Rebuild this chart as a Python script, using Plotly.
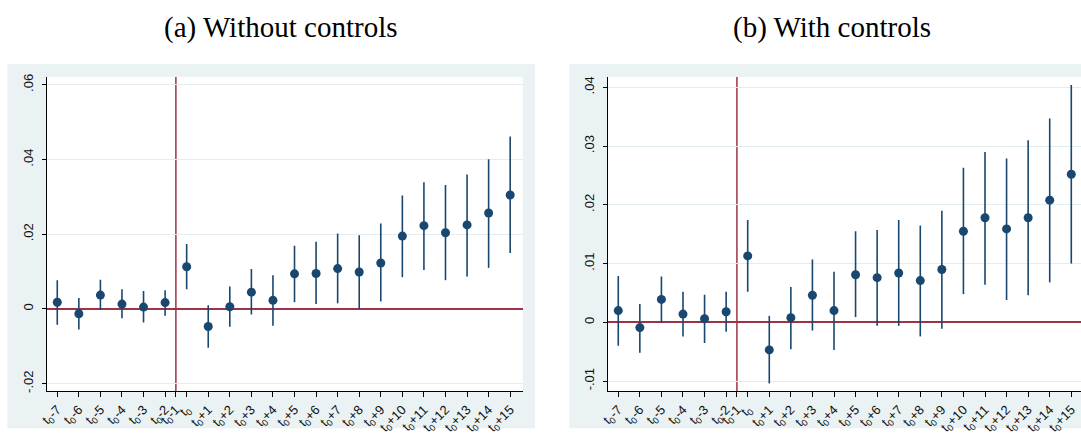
import plotly.graph_objects as go

# ---- data ----
periods = [-7, -6, -5, -4, -3, -2, 0, 1, 2, 3, 4, 5, 6, 7, 8, 9, 10, 11, 12, 13, 14, 15]
omitted_period = -1

def period_label(k):
    if k == 0:
        return "t<sub>0</sub>"
    return "t<sub>0</sub>" + ("+" if k > 0 else "-") + str(abs(k))

# (a) Without controls
est_a = [0.0018, -0.0013, 0.0037, 0.0013, 0.0005, 0.0017, 0.0113, -0.0047, 0.0006, 0.0045, 0.0023,
         0.0094, 0.0095, 0.0108, 0.0099, 0.0123, 0.0195, 0.0223, 0.0204, 0.0225, 0.0257, 0.0305]
hi_a = [0.0077, 0.0029, 0.0078, 0.0053, 0.0048, 0.0050, 0.0174, 0.0010, 0.0060, 0.0107, 0.0090,
        0.0169, 0.0180, 0.0202, 0.0197, 0.0229, 0.0304, 0.0339, 0.0332, 0.0360, 0.0401, 0.0462]
lo_a = [-0.0042, -0.0055, -0.0002, -0.0025, -0.0036, -0.0018, 0.0053, -0.0104, -0.0048, -0.0015, -0.0045,
        0.0018, 0.0013, 0.0015, 0.0000, 0.0020, 0.0085, 0.0104, 0.0077, 0.0087, 0.0110, 0.0150]

# (b) With controls
est_b = [0.0020, -0.0009, 0.0039, 0.0014, 0.0006, 0.0018, 0.0113, -0.0047, 0.0008, 0.0046, 0.0020,
         0.0081, 0.0076, 0.0084, 0.0071, 0.0090, 0.0155, 0.0178, 0.0159, 0.0178, 0.0208, 0.0252]
hi_b = [0.0079, 0.0031, 0.0078, 0.0052, 0.0047, 0.0052, 0.0174, 0.0011, 0.0060, 0.0107, 0.0086,
        0.0155, 0.0157, 0.0174, 0.0165, 0.0190, 0.0263, 0.0290, 0.0279, 0.0310, 0.0347, 0.0404]
lo_b = [-0.0040, -0.0052, -0.0001, -0.0024, -0.0035, -0.0016, 0.0052, -0.0104, -0.0046, -0.0014, -0.0047,
        0.0009, -0.0006, -0.0006, -0.0024, -0.0011, 0.0048, 0.0064, 0.0038, 0.0046, 0.0068, 0.0100]

ytick_vals_a = [-0.02, 0, 0.02, 0.04, 0.06]
ytick_text_a = ["-.02", "0", ".02", ".04", ".06"]
ytick_vals_b = [-0.01, 0, 0.01, 0.02, 0.03, 0.04]
ytick_text_b = ["-.01", "0", ".01", ".02", ".03", ".04"]

titles = ["(a) Without controls", "(b) With controls"]

# ---- positions ----
xpos = list(range(len(periods)))
i_before = periods.index(omitted_period - 1)
omit_x = (xpos[i_before] + xpos[i_before + 1]) / 2
tickvals = xpos[:i_before + 1] + [omit_x] + xpos[i_before + 1:]
tickperiods = periods[:i_before + 1] + [omitted_period] + periods[i_before + 1:]
ticktext = [period_label(k) for k in tickperiods]

NAVY = "#1a476f"
RED = "#9b3446"
BG = "#eaf2f3"
GRID = "#e3ecee"
W, H = 1081, 437

fig = go.Figure()
for i, (est, hi, lo) in enumerate([(est_a, hi_a, lo_a), (est_b, hi_b, lo_b)]):
    ax = "" if i == 0 else "2"
    fig.add_trace(go.Scatter(
        x=xpos, y=est, mode="markers",
        marker=dict(color=NAVY, size=9),
        error_y=dict(type="data", symmetric=False,
                     array=[h - e for h, e in zip(hi, est)],
                     arrayminus=[e - l for e, l in zip(est, lo)],
                     width=0, thickness=1.6, color=NAVY),
        xaxis="x" + ax, yaxis="y" + ax, showlegend=False,
    ))

def px_x(p):
    return p / W

def px_y(p):
    return 1 - p / H

ydom = [px_y(391), px_y(77)]
yfont = dict(family="Liberation Sans, Arial, sans-serif", size=13, color="#111")
xfont = dict(family="Liberation Sans, Arial, sans-serif", size=13, color="#111")

common_x = dict(tickmode="array", tickvals=tickvals, ticktext=ticktext, tickangle=-45,
                showline=True, linecolor="#000", linewidth=1, ticks="outside", ticklen=5,
                tickcolor="#000", showgrid=False, zeroline=False, tickfont=xfont, automargin=False)
common_y = dict(tickmode="array", tickangle=-90, showline=True, linecolor="#000", linewidth=1,
                ticks="outside", ticklen=4, tickcolor="#000", showgrid=True, gridcolor=GRID,
                gridwidth=1, zeroline=True, zerolinecolor=RED, zerolinewidth=1.5, tickfont=yfont,
                ticklabelstandoff=4, automargin=False)

fig.update_layout(
    width=W, height=H, margin=dict(l=0, r=0, t=0, b=0, autoexpand=False),
    paper_bgcolor="white", plot_bgcolor="white",
    xaxis=dict(domain=[px_x(46.7), px_x(522.7)], range=[-0.49, 21.58], anchor="y", **common_x),
    yaxis=dict(domain=ydom, range=[-0.02197, 0.0621], anchor="x",
               tickvals=ytick_vals_a, ticktext=ytick_text_a, **common_y),
    xaxis2=dict(domain=[px_x(607.7), 1.0], range=[-0.49, 21.45], anchor="y2", **common_x),
    yaxis2=dict(domain=ydom, range=[-0.01169, 0.04176], anchor="x2",
                tickvals=ytick_vals_b, ticktext=ytick_text_b, **common_y),
)

shapes = [
    dict(type="rect", xref="paper", yref="paper", x0=px_x(7.3), x1=px_x(535), y0=px_y(428.3), y1=px_y(64),
         fillcolor=BG, line=dict(width=0), layer="below"),
    dict(type="rect", xref="paper", yref="paper", x0=px_x(569.3), x1=1.02, y0=px_y(428.3), y1=px_y(64),
         fillcolor=BG, line=dict(width=0), layer="below"),
    dict(type="rect", xref="paper", yref="paper", x0=px_x(46.7), x1=px_x(522.7), y0=ydom[0], y1=ydom[1],
         fillcolor="white", line=dict(width=0), layer="below"),
    dict(type="rect", xref="paper", yref="paper", x0=px_x(607.7), x1=1.02, y0=ydom[0], y1=ydom[1],
         fillcolor="white", line=dict(width=0), layer="below"),
    dict(type="line", xref="x", yref="y domain", x0=omit_x, x1=omit_x, y0=0, y1=1,
         line=dict(color=RED, width=1.5), layer="below"),
    dict(type="line", xref="x2", yref="y2 domain", x0=omit_x, x1=omit_x, y0=0, y1=1,
         line=dict(color=RED, width=1.5), layer="below"),
]
fig.update_layout(shapes=shapes)

for t, cx in zip(titles, [280, 832]):
    fig.add_annotation(text=t, xref="paper", yref="paper", x=px_x(cx), y=px_y(27),
                       xanchor="center", yanchor="middle", showarrow=False,
                       font=dict(family="Liberation Serif, Times New Roman, serif", size=29, color="#000"))

fig.write_html("out.html", config={"displayModeBar": False},
               post_script="document.body.style.margin='0';document.body.style.overflow='hidden';")
